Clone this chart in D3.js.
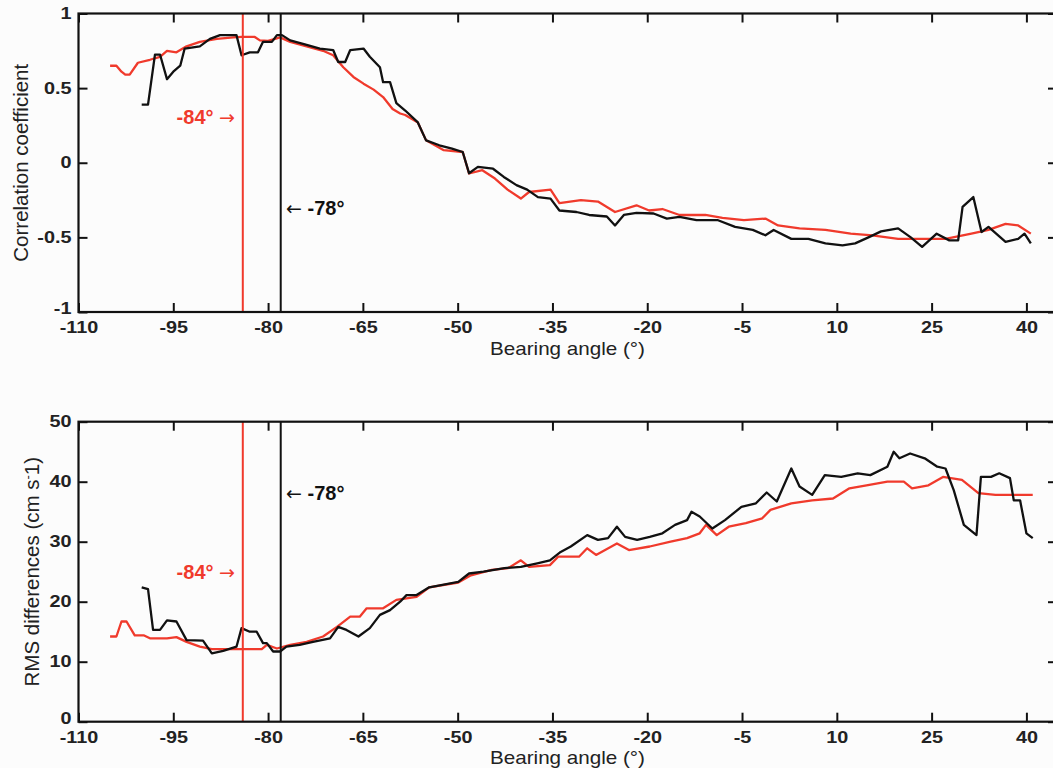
<!DOCTYPE html>
<html>
<head>
<meta charset="utf-8">
<script src="https://cdn.jsdelivr.net/npm/d3@7"></script>
<style>
  html, body { margin: 0; padding: 0; background: #fcfcfc; }
  svg { display: block; }
  text { font-family: "Liberation Sans", Arial, sans-serif; }
</style>
</head>
<body>
<svg id="chart" width="1053" height="768"></svg>
<script>
// ---------- DATA ----------
const xTicks = [-110, -95, -80, -65, -50, -35, -20, -5, 10, 25, 40];
const corrTicks = [-1, -0.5, 0, 0.5, 1];
const rmsTicks = [0, 10, 20, 30, 40, 50];
const markerRed = -84;
const markerBlack = -78;

// Correlation coefficient, red series [bearing, r]
const corrRed = [
  [-105,0.65],[-104,0.65],[-103.2,0.61],[-102.6,0.59],[-101.9,0.59],[-100.6,0.67],[-98.7,0.69],
  [-97.1,0.71],[-96,0.75],[-94.5,0.74],[-92.9,0.78],[-90.8,0.81],[-88.1,0.83],[-85.5,0.84],
  [-84.2,0.843],[-82.1,0.843],[-81.3,0.82],[-80,0.816],[-78.9,0.83],[-78.1,0.84],[-76.5,0.81],
  [-73.9,0.78],[-71.3,0.75],[-69.7,0.72],[-68.1,0.64],[-66.5,0.575],[-64.9,0.53],[-63.3,0.49],
  [-61.8,0.44],[-60.3,0.36],[-59.1,0.33],[-58.3,0.32],[-56.3,0.27],[-55,0.15],[-52.2,0.084],
  [-49.2,0.072],[-48.2,-0.072],[-46.1,-0.05],[-44.1,-0.106],[-42.1,-0.18],[-40,-0.24],
  [-38.7,-0.196],[-35.3,-0.18],[-33.9,-0.27],[-30.5,-0.25],[-27.8,-0.26],[-25.1,-0.33],
  [-21.7,-0.285],[-19.7,-0.32],[-17.6,-0.31],[-14.9,-0.35],[-10.8,-0.35],[-8.1,-0.37],
  [-4.7,-0.385],[-1.3,-0.374],[0.7,-0.42],[4.1,-0.44],[8.2,-0.45],[12.2,-0.475],[15.6,-0.486],
  [19.7,-0.51],[23.1,-0.51],[27.2,-0.51],[31.3,-0.475],[34,-0.45],[36.7,-0.41],[38.7,-0.42],
  [40.7,-0.475]
];

// Correlation coefficient, black series [bearing, r]
const corrBlack = [
  [-100,0.39],[-99,0.39],[-97.9,0.725],[-97.1,0.725],[-96,0.56],[-95,0.61],[-93.9,0.65],
  [-93.2,0.765],[-90.8,0.78],[-89.2,0.83],[-87.6,0.855],[-85,0.855],[-84.2,0.72],[-82.9,0.74],
  [-81.6,0.74],[-80.8,0.81],[-79.4,0.81],[-78.6,0.855],[-77.8,0.855],[-76.5,0.82],[-73.9,0.79],
  [-71.8,0.765],[-69.7,0.755],[-68.9,0.675],[-67.8,0.675],[-67,0.755],[-64.9,0.765],[-63.9,0.71],
  [-62.3,0.64],[-61.8,0.54],[-60.7,0.54],[-59.7,0.4],[-58.3,0.35],[-56.3,0.27],[-55,0.15],
  [-52.9,0.117],[-50.9,0.095],[-49.2,0.072],[-48.2,-0.07],[-46.8,-0.028],[-44.4,-0.04],
  [-42.7,-0.095],[-40.7,-0.15],[-39,-0.18],[-37.3,-0.23],[-35.3,-0.24],[-33.9,-0.32],
  [-31.2,-0.33],[-29.2,-0.35],[-26.4,-0.36],[-25.1,-0.42],[-23.7,-0.35],[-21.7,-0.336],
  [-19,-0.34],[-16.9,-0.374],[-14.9,-0.363],[-12.2,-0.385],[-8.8,-0.385],[-6.1,-0.43],
  [-3.3,-0.45],[-1.3,-0.486],[0,-0.45],[2.8,-0.51],[5.5,-0.51],[8.2,-0.54],[10.9,-0.553],
  [12.9,-0.54],[15,-0.5],[17,-0.46],[19.7,-0.44],[21.7,-0.5],[23.5,-0.564],[25.8,-0.475],
  [27.8,-0.52],[29.2,-0.52],[29.9,-0.296],[31.6,-0.23],[32.9,-0.464],[34,-0.43],[36.7,-0.53],
  [38.7,-0.51],[39.7,-0.475],[40.7,-0.54]
];

// RMS differences, red series [bearing, cm/s]
const rmsRed = [
  [-105,14.2],[-104,14.2],[-103.2,16.7],[-102.4,16.7],[-101.1,14.4],[-99.7,14.4],[-98.7,13.9],
  [-96,13.9],[-94.5,14.1],[-92.9,13.3],[-90.8,12.5],[-88.9,12.1],[-86,12.1],[-81,12.1],
  [-80.2,12.8],[-78.6,12.2],[-76.5,12.8],[-73.9,13.3],[-71.3,14.2],[-69.1,15.8],[-67,17.5],
  [-65.5,17.5],[-64.4,18.9],[-61.8,18.9],[-59.7,20.3],[-56.5,20.8],[-54.5,22.4],[-49.9,23.2],
  [-47.9,24.4],[-44.6,25.3],[-42,25.6],[-40,26.9],[-38.7,25.8],[-35.4,26.1],[-34.1,27.5],
  [-30.8,27.5],[-29.5,28.9],[-28.1,27.8],[-24.8,29.7],[-22.9,28.6],[-19.6,29.2],[-16.3,30],
  [-13.7,30.6],[-11.7,31.4],[-10.7,32.8],[-9,31.1],[-7.1,32.5],[-4.4,33.1],[-1.8,33.9],
  [-0.5,35.3],[2.8,36.4],[6.1,36.9],[9.4,37.2],[12,38.9],[14.7,39.4],[18,40],[20.6,40],
  [21.9,38.9],[24.5,39.4],[26.8,40.8],[29.8,40.3],[32.4,38.1],[35.1,37.8],[41,37.8]
];

// RMS differences, black series [bearing, cm/s]
const rmsBlack = [
  [-100,22.4],[-99,22.1],[-98.2,15.3],[-97.1,15.3],[-96,16.9],[-94.5,16.7],[-92.9,13.6],
  [-90.3,13.5],[-88.9,11.4],[-87.1,11.8],[-85,12.5],[-84.2,15.6],[-82.9,15],[-81.8,15],
  [-80.8,13.1],[-80.2,13.1],[-79.2,11.7],[-78.1,11.7],[-77.1,12.5],[-75,12.8],[-72.9,13.3],
  [-70.2,13.9],[-68.9,15.8],[-67.6,15.3],[-65.7,14.2],[-63.9,15.6],[-62.3,17.8],[-60.7,18.6],
  [-59.1,20],[-58.1,21.1],[-56.5,21.1],[-54.5,22.4],[-49.9,23.3],[-48.2,24.7],[-45.9,25],
  [-42.6,25.6],[-40,25.8],[-37.4,26.4],[-35.4,26.9],[-33.7,28.3],[-32.1,29.2],[-29.5,31.1],
  [-27.8,30.3],[-26.2,30.6],[-24.8,32.5],[-23.5,30.8],[-21.6,30.3],[-19.6,30.8],[-17.6,31.4],
  [-15.6,32.8],[-13.7,33.6],[-13,35],[-11.7,34.2],[-9.7,32.2],[-7.7,33.6],[-5.1,35.8],
  [-2.8,36.4],[-1.1,38.2],[0.5,36.7],[2.8,42.2],[4.1,39.2],[6.1,37.8],[8.1,41.1],[10.7,40.8],
  [13.3,41.4],[15.3,41.1],[18,42.5],[19,45],[19.9,43.9],[21.6,44.7],[23.9,43.9],[25.9,42.5],
  [27.2,42.2],[28.5,38.6],[30.1,32.8],[32.1,31.1],[32.8,40.8],[34.4,40.8],[35.7,41.4],
  [37.4,40.6],[38,36.9],[39,36.9],[40,31.4],[41,30.6]
];

// ---------- DRAW ----------
const svg = d3.select("#chart");
const left = 78.5, right = 1058;
const x = d3.scaleLinear().domain([-110, 45]).range([left, right]);
const fmt = d => String(d).replace("\u2212", "-");

const RED = "#f03a2c";
const BLACK = "#111";
const TXT = "#222";
const SX = 1.24; // horizontal stretch of tick labels in the reference

function panel(cfg) {
  const g = svg.append("g");
  const y = d3.scaleLinear().domain(cfg.yDomain).range([cfg.bottom, cfg.top]);
  const clipId = "clip" + cfg.id;
  svg.append("clipPath").attr("id", clipId).append("rect")
    .attr("x", left).attr("y", cfg.top).attr("width", right - left).attr("height", cfg.bottom - cfg.top);

  const line = d3.line().x(d => x(d[0])).y(d => y(d[1]));
  const plot = g.append("g").attr("clip-path", `url(#${clipId})`);

  plot.append("path").datum(cfg.red).attr("d", line)
    .attr("fill", "none").attr("stroke", RED).attr("stroke-width", 2.3).attr("stroke-linejoin", "round");
  plot.append("path").datum(cfg.black).attr("d", line)
    .attr("fill", "none").attr("stroke", BLACK).attr("stroke-width", 2.3).attr("stroke-linejoin", "round");

  // vertical markers
  plot.append("line").attr("x1", x(markerRed)).attr("x2", x(markerRed))
    .attr("y1", cfg.top).attr("y2", cfg.bottom).attr("stroke", RED).attr("stroke-width", 2);
  plot.append("line").attr("x1", x(markerBlack)).attr("x2", x(markerBlack))
    .attr("y1", cfg.top).attr("y2", cfg.bottom).attr("stroke", BLACK).attr("stroke-width", 2);

  // axes (ticks inward)
  const axStyle = sel => {
    sel.select(".domain").remove();
    sel.selectAll(".tick line").attr("stroke", BLACK).attr("stroke-width", 2);
    sel.selectAll(".tick text").attr("fill", TXT).style("font-size", "16px").style("font-weight", "bold")
      .style("font-family", "'Liberation Sans', Arial, sans-serif");
  };
  g.append("g").attr("transform", `translate(0,${cfg.bottom})`)
    .call(d3.axisBottom(x).tickValues(xTicks).tickFormat(fmt).tickSizeInner(-9).tickSizeOuter(0).tickPadding(10))
    .call(axStyle)
    .call(s => s.selectAll(".tick text").attr("transform", `scale(${SX},1)`));
  g.append("g").attr("transform", `translate(0,${cfg.top})`)
    .call(d3.axisTop(x).tickValues(xTicks).tickFormat("").tickSizeInner(-9).tickSizeOuter(0))
    .call(axStyle);
  g.append("g").attr("transform", `translate(${left},0)`)
    .call(d3.axisLeft(y).tickValues(cfg.yTicks).tickFormat(fmt).tickSizeInner(-9).tickSizeOuter(0).tickPadding(7))
    .call(axStyle)
    .call(s => s.selectAll(".tick text")
      .attr("x", -7 / SX)
      .attr("dy", (d, i) => i === 0 ? "0.12em" : "0.32em")
      .attr("transform", `scale(${SX},1)`));
  g.append("g").attr("transform", `translate(${right},0)`)
    .call(d3.axisRight(y).tickValues(cfg.yTicks).tickFormat("").tickSizeInner(-10).tickSizeOuter(0))
    .call(axStyle);

  // frame
  g.append("rect").attr("x", left).attr("y", cfg.top).attr("width", right - left).attr("height", cfg.bottom - cfg.top)
    .attr("fill", "none").attr("stroke", BLACK).attr("stroke-width", 2.2);

  // x title
  g.append("text").attr("x", 567.5).attr("y", cfg.xTitleY).attr("text-anchor", "middle")
    .style("font-size", "19px").attr("fill", TXT)
    .attr("textLength", 155).attr("lengthAdjust", "spacingAndGlyphs")
    .text("Bearing angle (°)");

  // y title
  const yt = g.append("text").attr("transform", `translate(${cfg.yTitleX},${(cfg.top + cfg.bottom) / 2}) rotate(-90)`)
    .attr("text-anchor", "middle").style("font-size", "20.5px").attr("fill", TXT);
  cfg.yTitle(yt);

  // annotations
  const a1 = g.append("text").attr("x", 235).attr("y", cfg.redLabelY).attr("text-anchor", "end")
    .attr("fill", RED).style("font-size", "20px").style("font-weight", "bold");
  a1.append("tspan").text("-84° ");
  a1.append("tspan").style("font-family", "'DejaVu Sans', sans-serif").style("font-weight", "normal")
    .style("font-size", "19px").text("→");
  const a2 = g.append("text").attr("x", 286).attr("y", cfg.blackLabelY).attr("text-anchor", "start")
    .attr("fill", BLACK).style("font-size", "20px").style("font-weight", "bold");
  a2.append("tspan").style("font-family", "'DejaVu Sans', sans-serif").style("font-weight", "normal")
    .style("font-size", "19px").text("←");
  a2.append("tspan").text(" -78°");
}

panel({
  id: "top", top: 13.5, bottom: 312, yDomain: [-1, 1], yTicks: corrTicks,
  red: corrRed, black: corrBlack, xTitleY: 355, yTitleX: 28,
  redLabelY: 124, blackLabelY: 215,
  yTitle: t => t.text("Correlation coefficient")
});

panel({
  id: "bot", top: 421.7, bottom: 721.7, yDomain: [0, 50], yTicks: rmsTicks,
  red: rmsRed, black: rmsBlack, xTitleY: 764, yTitleX: 39,
  redLabelY: 579, blackLabelY: 500,
  yTitle: t => {
    t.append("tspan").text("RMS differences (cm s");
    t.append("tspan").attr("dy", "-7").style("font-size", "13px").text("-");
    t.append("tspan").attr("dy", "7").text("1)");
  }
});
</script>
</body>
</html>
